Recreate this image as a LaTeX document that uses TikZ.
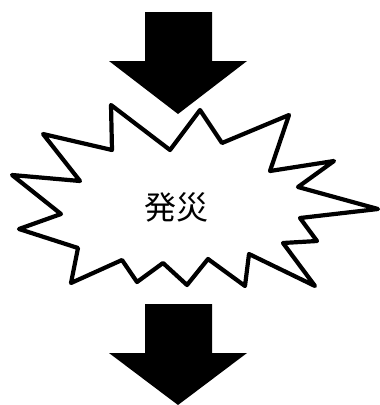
\documentclass[tikz,border=0pt]{standalone}
\usepackage{fontspec}
\newfontfamily\jpfont{Noto Sans CJK JP}
\usetikzlibrary{calc}

\begin{document}
\begin{tikzpicture}[x=1pt, y=-1pt,
    blockarrow/.style = {fill=black, draw=none},
    burst/.style = {draw=black, line width=4.2pt, line join=round, fill=white}]
    % Frame
    \useasboundingbox (0,0) rectangle (380,405);

    % Top arrow
    \coordinate (T) at (145,12);
    \fill[blockarrow] (T) -- ++(67,0) -- ++(0,49) -- ++(35,0) coordinate (TR)
        -- (178,114) coordinate (TT) -- (109,61) coordinate (TL) -- ++(36,0) -- cycle;

    % Starburst
    \draw[burst] (111,105) -- (170,150) -- (200,110) -- (222,143) -- (289,115)
        -- (270,171) -- (334,161) -- (298,187) -- (378,209) -- (300,218)
        -- (317,241) -- (283,243) -- (315,286) -- (249,254) -- (245,286)
        -- (208,259) -- (187,285) -- (163,263) -- (137,282) -- (122,260)
        -- (71,283) -- (78,248) -- (19,229) -- (61,214) -- (12,175)
        -- (80,181) -- (43,134) -- (112,150) -- cycle;
    \node (label) at (176,207) {\jpfont\fontsize{32pt}{36pt}\selectfont 発災};

    % Bottom arrow
    \coordinate (B) at (145,304);
    \fill[blockarrow] (B) -- ++(67,0) -- ++(0,49) -- ++(35,0) coordinate (BR)
        -- (178,405) coordinate (BT) -- (109,353) coordinate (BL) -- ++(36,0) -- cycle;

\end{tikzpicture}
\end{document}
